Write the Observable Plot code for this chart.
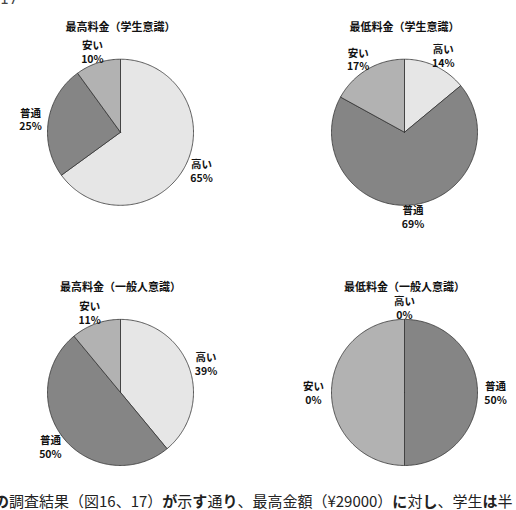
<!DOCTYPE html>
<html>
<head>
<meta charset="utf-8">
<script src="https://cdn.jsdelivr.net/npm/d3@7"></script>
<script src="https://cdn.jsdelivr.net/npm/@observablehq/plot@0.6"></script>
<style>
  html, body { margin: 0; padding: 0; background: #fff; width: 516px; height: 510px; overflow: hidden; position: relative; }
  #top { position: absolute; left: 0; top: -9px; font: 14px "DejaVu Sans", sans-serif; color: #444; }
  #chart { position: absolute; left: 0; top: 0; }
  #note { position: absolute; left: -6px; top: 490px; white-space: nowrap; font: 15px "Noto Sans CJK JP", sans-serif; color: #222; }
  #note b { font-weight: bold; }
</style>
</head>
<body>
<div id="top">17</div>
<div id="chart"></div>
<div id="note"><b>の</b>調査結果（図16、17）<b>が</b>示<b>す</b>通<b>り</b>、最高金額（¥29000）<b>に</b>対<b>し</b>、学生<b>は</b>半</div>
<script>
const titles = ["最高料金（学生意識）", "最低料金（学生意識）", "最高料金（一般人意識）", "最低料金（一般人意識）"];
const categories = ["高い", "普通", "安い"];
const values = [
  [65, 25, 10],
  [14, 69, 17],
  [39, 50, 11],
  [0, 50, 50]
];
const labelPercents = [
  ["65%", "25%", "10%"],
  ["14%", "69%", "17%"],
  ["39%", "50%", "11%"],
  ["0%", "50%", "0%"]
];
const colors = ["#e6e6e6", "#858585", "#b2b2b2"];

const R = 73;                 // pie radius in px
const labelRx = 91 / R;       // label distance (horizontal), radius units
const labelRy = 85 / R;       // label distance (vertical), radius units

const pts = [];
const labels = [];
const heads = [];
values.forEach((vals, i) => {
  const col = i % 2, row = Math.floor(i / 2);
  heads.push({col, row, text: titles[i]});
  const arcs = d3.pie().sort(null).startAngle(0).endAngle(2 * Math.PI)(vals);
  arcs.forEach((a, j) => {
    const key = i + "-" + j;
    pts.push({key, col, row, cat: categories[j], x: 0, y: 0});
    const n = Math.max(1, Math.ceil((a.endAngle - a.startAngle) / (Math.PI / 180)));
    for (let k = 0; k <= n; k++) {
      const t = a.startAngle + (a.endAngle - a.startAngle) * k / n;
      pts.push({key, col, row, cat: categories[j], x: Math.sin(t), y: Math.cos(t)});
    }
    pts.push({key, col, row, cat: categories[j], x: 0, y: 0});
    const mid = (a.startAngle + a.endAngle) / 2;
    labels.push({col, row, x: labelRx * Math.sin(mid), y: labelRy * Math.cos(mid), text: categories[j] + "\n" + labelPercents[i][j]});
  });
});

const bw = 200, bh = 180;
const plot = Plot.plot({
  width: 516,
  height: 482,
  marginLeft: 20,
  marginRight: 12,
  marginTop: 41.7,
  marginBottom: 0,
  x: {domain: [-bw / 2 / R, bw / 2 / R], axis: null},
  y: {domain: [-bh / 2 / R, bh / 2 / R], axis: null},
  fx: {domain: [0, 1], axis: null, paddingInner: 84 / 284, paddingOuter: 0, round: false},
  fy: {domain: [0, 1], axis: null, paddingInner: 80 / 260, paddingOuter: 0, round: false},
  color: {domain: categories, range: colors},
  style: {fontFamily: "'Noto Sans CJK JP', sans-serif", background: "transparent"},
  marks: [
    Plot.line(pts, {x: "x", y: "y", z: "key", fx: "col", fy: "row", fill: "cat", stroke: "#333", strokeWidth: 0.8, strokeLinejoin: "round", curve: "linear"}),
    Plot.text(labels, {x: "x", y: "y", fx: "col", fy: "row", text: "text", fontSize: 10.5, fontWeight: "bold", fill: "#111", lineHeight: 1.3, lineAnchor: "middle"}),
    Plot.text(heads, {fx: "col", fy: "row", text: "text", frameAnchor: "top", dy: -15, lineAnchor: "middle", fontSize: 11, fontWeight: "bold", fill: "#111"})
  ]
});
document.getElementById("chart").appendChild(plot);
</script>
</body>
</html>
